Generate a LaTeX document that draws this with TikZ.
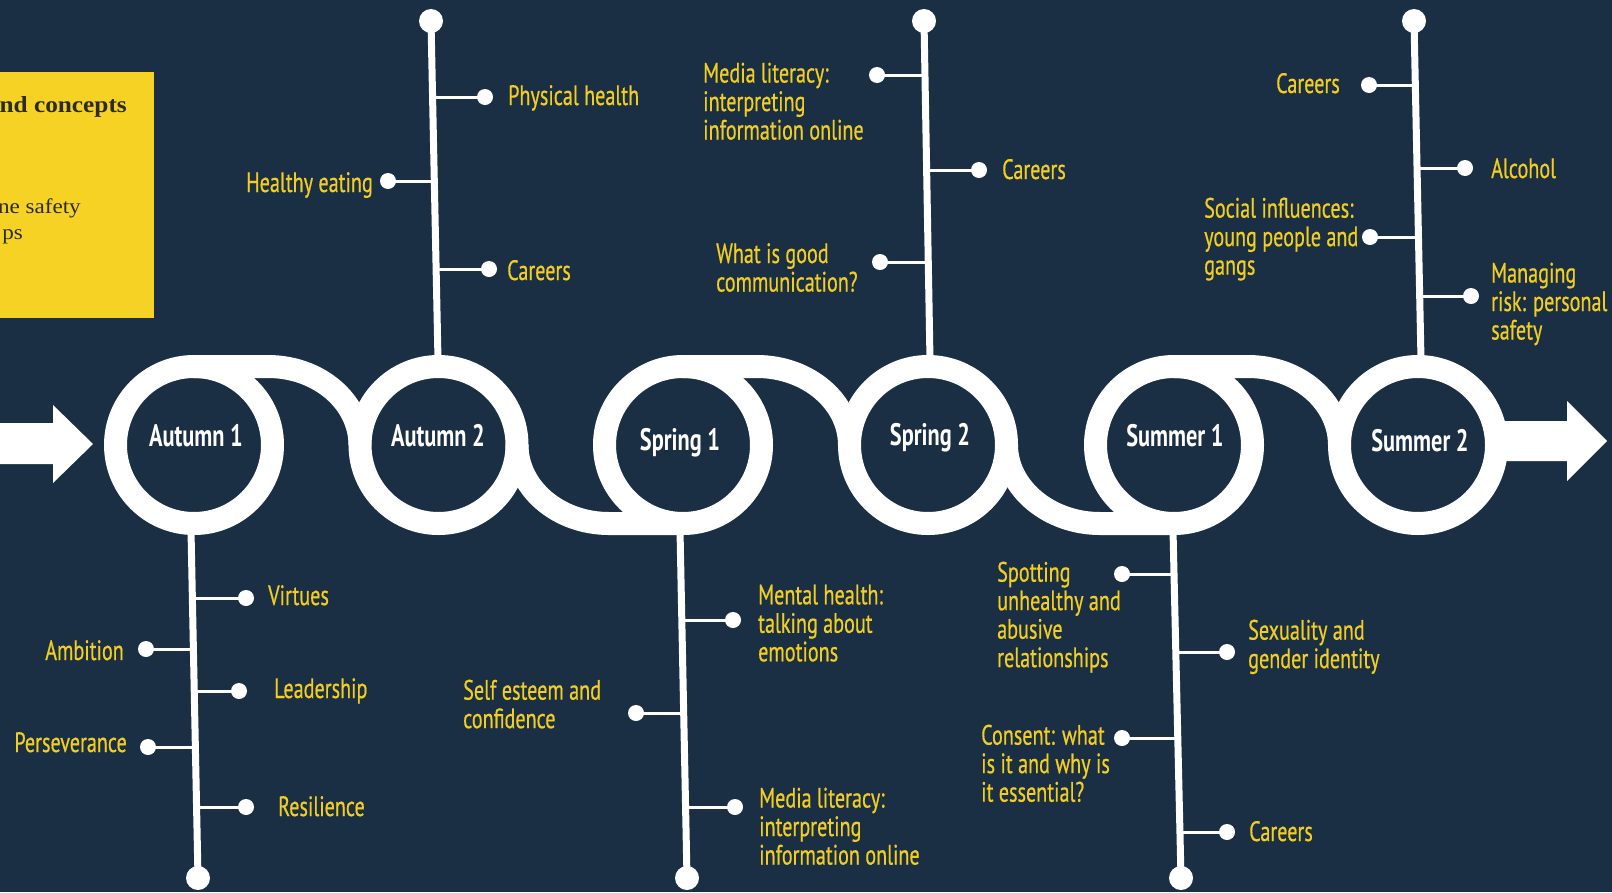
\documentclass[tikz,border=0pt]{standalone}
\usepackage{fontspec}
\setmainfont{PT Sans}[FakeStretch=0.72]
\newfontfamily\lblfont{PT Sans}[FakeStretch=0.72, FakeBold=0.5]
\newfontfamily\boxfont{Liberation Serif}[FakeStretch=1.1]
\usetikzlibrary{calc}
\definecolor{bg}{HTML}{1A2E44}
\definecolor{ytext}{HTML}{F2CE22}
\definecolor{ybox}{HTML}{F5D223}
\definecolor{boxtext}{HTML}{2B2B2B}
\begin{document}
\begin{tikzpicture}[x=1pt,y=1pt,
  ring/.style={circle, draw=white, line width=23pt, minimum size=157pt, inner sep=0pt, outer sep=0pt},
  ribbon/.style={draw=white, line width=23pt},
  stem/.style={draw=white, line width=7pt},
  branch/.style={draw=white, line width=3pt},
  bdot/.style={circle, fill=white, minimum size=16pt, inner sep=0pt},
  edot/.style={circle, fill=white, minimum size=24pt, inner sep=0pt},
  lbl/.style={text=ytext, font=\lblfont\fontsize{28}{28.5}\selectfont, inner sep=0pt, align=left},
  clbl/.style={text=white, font=\fontsize{31}{31}\selectfont\bfseries, inner sep=0pt},
  boxlbl/.style={text=boxtext, inner sep=0pt}
]
\fill[bg] (0,0) rectangle (1612,-892);
\useasboundingbox (0,0) rectangle (1612,-892);
% yellow box
\fill[ybox] (0,-72) rectangle (154,-318);
\node[boxlbl, font=\boxfont\fontsize{23}{26}\selectfont\bfseries, anchor=base east] (k1) at (127,-112) {nd concepts};
\node[boxlbl, font=\boxfont\fontsize{21}{26}\selectfont, anchor=base east] (k2) at (81,-213) {ne safety};
\node[boxlbl, font=\boxfont\fontsize{21}{26}\selectfont, anchor=base east] (k3) at (23,-239) {ps};
% rings
\node[ring] (c1) at (194,-445) {};
\node[ring] (c2) at (438.5,-445) {};
\node[ring] (c3) at (683,-445) {};
\node[ring] (c4) at (928,-445) {};
\node[ring] (c5) at (1174,-445) {};
\node[ring] (c6) at (1418,-445) {};
% ribbon connectors
\draw[ribbon] (c1.north) -- ++(74,0) .. controls +(51,0) and +(0,43) .. (c2.west);
\draw[ribbon] (c3.north) -- ++(74,0) .. controls +(51,0) and +(0,43) .. (c4.west);
\draw[ribbon] (c5.north) -- ++(74,0) .. controls +(51,0) and +(0,43) .. (c6.west);
\draw[ribbon] (c2.east) .. controls +(0,-43) and +(-51,0) .. ($(c3.south)+(-74,0)$) -- (c3.south);
\draw[ribbon] (c4.east) .. controls +(0,-43) and +(-51,0) .. ($(c5.south)+(-74,0)$) -- (c5.south);
% arrows
\fill[white] (0,-423) -- (53,-423) -- (53,-405) -- (93,-444) -- (53,-483) -- (53,-464) -- (0,-464) -- cycle;
\fill[white] (1500,-421) -- (1567,-421) -- (1567,-401) -- (1607,-441) -- (1567,-481) -- (1567,-461) -- (1500,-461) -- cycle;
% circle labels
\node[clbl, anchor=base] (t1) at (196,-446) {Autumn 1};
\node[clbl, anchor=base] (t2) at (438,-446) {Autumn 2};
\node[clbl, anchor=base] (t3) at (680,-450) {Spring 1};
\node[clbl, anchor=base] (t4) at (930,-445) {Spring 2};
\node[clbl, anchor=base] (t5) at (1175,-446) {Summer 1};
\node[clbl, anchor=base] (t6) at (1420,-451) {Summer 2};

% ---------- Autumn 2 (up) ----------
\node[edot] (a2top) at (431,-21) {};
\coordinate (a2bot) at (438,-360);
\draw[stem] (a2top.center) -- (a2bot);
\coordinate (a2s1) at (432.6,-97);  \node[bdot] (a2d1) at (485,-97) {};  \draw[branch] (a2s1) -- (a2d1.center);
\coordinate (a2s2) at (434.4,-181); \node[bdot] (a2d2) at (388,-181) {}; \draw[branch] (a2s2) -- (a2d2.center);
\coordinate (a2s3) at (436.2,-269); \node[bdot] (a2d3) at (489,-269) {}; \draw[branch] (a2s3) -- (a2d3.center);
\node[lbl, anchor=base west] (a2l1) at (508,-105) {Physical health};
\node[lbl, anchor=base east] (a2l2) at (373,-192) {Healthy eating};
\node[lbl, anchor=base west] (a2l3) at (507,-280) {Careers};

% ---------- Spring 2 (up) ----------
\node[edot] (s2top) at (924,-21) {};
\coordinate (s2bot) at (930,-360);
\draw[stem] (s2top.center) -- (s2bot);
\coordinate (s2s1) at (925,-75);    \node[bdot] (s2d1) at (877,-75) {};  \draw[branch] (s2s1) -- (s2d1.center);
\coordinate (s2s2) at (926.7,-170); \node[bdot] (s2d2) at (979,-170) {}; \draw[branch] (s2s2) -- (s2d2.center);
\coordinate (s2s3) at (928.3,-262); \node[bdot] (s2d3) at (880,-262) {}; \draw[branch] (s2s3) -- (s2d3.center);
\node[lbl, anchor=north west] (s2l1) at (703,-62.5) {Media literacy:\\interpreting\\information online};
\node[lbl, anchor=base west] (s2l2) at (1002,-179) {Careers};
\node[lbl, anchor=north west] (s2l3) at (716,-243) {What is good\\communication?};

% ---------- Summer 2 (up) ----------
\node[edot] (u2top) at (1414,-21) {};
\coordinate (u2bot) at (1421,-360);
\draw[stem] (u2top.center) -- (u2bot);
\coordinate (u2s1) at (1415.3,-85);  \node[bdot] (u2d1) at (1369,-85) {};  \draw[branch] (u2s1) -- (u2d1.center);
\coordinate (u2s2) at (1417.1,-168); \node[bdot] (u2d2) at (1465,-168) {}; \draw[branch] (u2s2) -- (u2d2.center);
\coordinate (u2s3) at (1418.5,-237); \node[bdot] (u2d3) at (1370,-237) {}; \draw[branch] (u2s3) -- (u2d3.center);
\coordinate (u2s4) at (1419.8,-296); \node[bdot] (u2d4) at (1471,-296) {}; \draw[branch] (u2s4) -- (u2d4.center);
\node[lbl, anchor=base east] (u2l1) at (1340,-93) {Careers};
\node[lbl, anchor=base west] (u2l2) at (1491,-178) {Alcohol};
\node[lbl, anchor=north west] (u2l3) at (1204,-197.5) {Social influences:\\young people and\\gangs};
\node[lbl, anchor=north west] (u2l4) at (1491,-262.5) {Managing\\risk: personal\\safety};

% ---------- Autumn 1 (down) ----------
\coordinate (a1top) at (191,-530);
\node[edot] (a1bot) at (198,-878) {};
\draw[stem] (a1top) -- (a1bot.center);
\coordinate (a1s1) at (192.3,-598); \node[bdot] (a1d1) at (246,-598) {}; \draw[branch] (a1s1) -- (a1d1.center);
\coordinate (a1s2) at (193.3,-649); \node[bdot] (a1d2) at (146,-649) {}; \draw[branch] (a1s2) -- (a1d2.center);
\coordinate (a1s3) at (194.2,-691); \node[bdot] (a1d3) at (239,-691) {}; \draw[branch] (a1s3) -- (a1d3.center);
\coordinate (a1s4) at (195.3,-747); \node[bdot] (a1d4) at (148,-747) {}; \draw[branch] (a1s4) -- (a1d4.center);
\coordinate (a1s5) at (196.6,-807); \node[bdot] (a1d5) at (246,-807) {}; \draw[branch] (a1s5) -- (a1d5.center);
\node[lbl, anchor=base west] (a1l1) at (268,-605) {Virtues};
\node[lbl, anchor=base east] (a1l2) at (124,-660) {Ambition};
\node[lbl, anchor=base west] (a1l3) at (274,-698) {Leadership};
\node[lbl, anchor=base east] (a1l4) at (127,-752) {Perseverance};
\node[lbl, anchor=base west] (a1l5) at (278,-816) {Resilience};

% ---------- Spring 1 (down) ----------
\coordinate (s1top) at (680,-530);
\node[edot] (s1bot) at (687,-878) {};
\draw[stem] (s1top) -- (s1bot.center);
\coordinate (s1s1) at (681.7,-620); \node[bdot] (s1d1) at (733,-620) {}; \draw[branch] (s1s1) -- (s1d1.center);
\coordinate (s1s2) at (683.6,-713); \node[bdot] (s1d2) at (636,-713) {}; \draw[branch] (s1s2) -- (s1d2.center);
\coordinate (s1s3) at (685.6,-807); \node[bdot] (s1d3) at (735,-807) {}; \draw[branch] (s1s3) -- (s1d3.center);
\node[lbl, anchor=north west] (s1l1) at (758,-584.5) {Mental health:\\talking about\\emotions};
\node[lbl, anchor=north west] (s1l2) at (463,-679.5) {Self esteem and\\confidence};
\node[lbl, anchor=north west] (s1l3) at (759,-787.5) {Media literacy:\\interpreting\\information online};

% ---------- Summer 1 (down) ----------
\coordinate (u1top) at (1173,-530);
\node[edot] (u1bot) at (1181,-878) {};
\draw[stem] (u1top) -- (u1bot.center);
\coordinate (u1s1) at (1173.9,-574); \node[bdot] (u1d1) at (1122,-574) {}; \draw[branch] (u1s1) -- (u1d1.center);
\coordinate (u1s2) at (1175.7,-652); \node[bdot] (u1d2) at (1227,-652) {}; \draw[branch] (u1s2) -- (u1d2.center);
\coordinate (u1s3) at (1177.7,-738); \node[bdot] (u1d3) at (1122,-738) {}; \draw[branch] (u1s3) -- (u1d3.center);
\coordinate (u1s4) at (1179.9,-832); \node[bdot] (u1d4) at (1227,-832) {}; \draw[branch] (u1s4) -- (u1d4.center);
\node[lbl, anchor=north west] (u1l1) at (997,-561.5) {Spotting\\unhealthy and\\abusive\\relationships};
\node[lbl, anchor=north west] (u1l2) at (1248,-619.5) {Sexuality and\\gender identity};
\node[lbl, anchor=north west] (u1l3) at (981,-724.5) {Consent: what\\is it and why is\\it essential?};
\node[lbl, anchor=base west] (u1l4) at (1249,-841) {Careers};
\end{tikzpicture}
\end{document}
